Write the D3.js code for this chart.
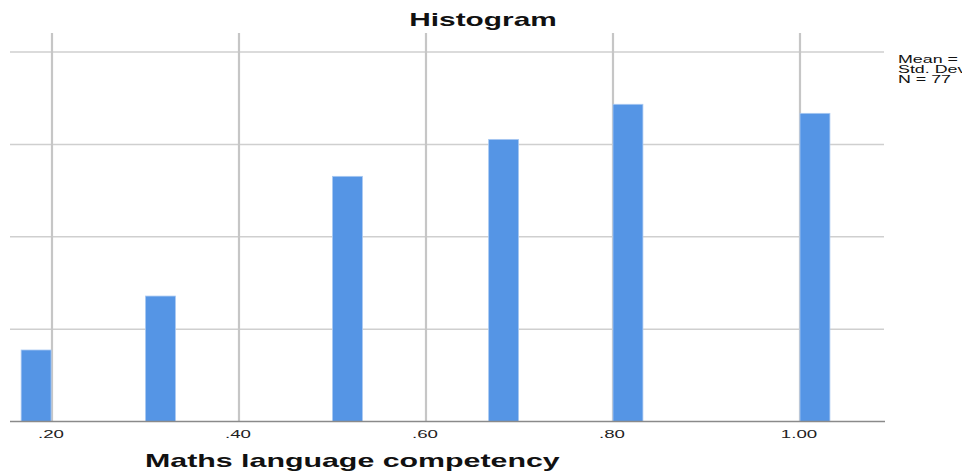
<!DOCTYPE html>
<html>
<head>
<meta charset="utf-8">
<script src="https://cdn.jsdelivr.net/npm/d3@7/dist/d3.min.js"></script>
<style>
  html, body { margin: 0; padding: 0; background: #ffffff; overflow: hidden; }
  svg { display: block; }
  text { font-family: "Liberation Sans", Arial, sans-serif; }
</style>
</head>
<body>
<svg id="chart" width="962" height="474"></svg>
<script>
// Histogram bins: lower edge of each bin (score) and its frequency
const binStarts = [0.167, 0.300, 0.500, 0.667, 0.800, 1.000];
const frequencies = [3.87, 6.79, 13.27, 15.27, 17.17, 16.68];
const binWidth = 0.032;

// Axis ticks
const xTicks = [0.2, 0.4, 0.6, 0.8, 1.0];
const xTickLabels = [".20", ".40", ".60", ".80", "1.00"];
const yTicks = [0, 5, 10, 15, 20];

// Summary box lines
const statLines = ["Mean =", "Std. Dev. =", "N = 77"];

const title = "Histogram";
const xTitle = "Maths language competency";

const plot = { left: 10, right: 884, top: 33, bottom: 421.5 };
const stretch = 1.7; // horizontal text scale

const svg = d3.select("#chart");

const x = d3.scaleLinear()
  .domain([0.2, 1.0])
  .range([52, 800]);
const xMin = x.invert(plot.left), xMax = x.invert(plot.right);

const y = d3.scaleLinear()
  .domain([0, 20])
  .range([plot.bottom, 52]);

// Horizontal gridlines
svg.append("g")
  .selectAll("line")
  .data(yTicks.slice(1))
  .join("line")
  .attr("x1", x(xMin)).attr("x2", x(xMax))
  .attr("y1", d => y(d)).attr("y2", d => y(d))
  .attr("stroke", "#cfcfcf").attr("stroke-width", 1.5);

// Vertical gridlines at tick positions
svg.append("g")
  .selectAll("line")
  .data(xTicks)
  .join("line")
  .attr("x1", d => x(d)).attr("x2", d => x(d))
  .attr("y1", plot.top).attr("y2", plot.bottom)
  .attr("stroke", "#c6c6c6").attr("stroke-width", 2.2);

// Bars
const bins = binStarts.map((s, i) => ({ start: s, freq: frequencies[i] }));
svg.append("g")
  .selectAll("rect")
  .data(bins)
  .join("rect")
  .attr("x", d => x(d.start))
  .attr("width", d => x(d.start + binWidth) - x(d.start))
  .attr("y", d => y(d.freq))
  .attr("height", d => y(0) - y(d.freq))
  .attr("fill", "#5595e5")
  .attr("stroke", "#a9c9f2")
  .attr("stroke-width", 0.8);

// Bottom axis line
svg.append("line")
  .attr("x1", x(xMin)).attr("x2", x(xMax) + 1)
  .attr("y1", y(0)).attr("y2", y(0))
  .attr("stroke", "#8a8a8a").attr("stroke-width", 1.5);

// Tick labels
svg.append("g")
  .selectAll("text")
  .data(xTicks)
  .join("text")
  .attr("transform", d => `translate(${x(d) - 1},438) scale(${stretch},1)`)
  .attr("text-anchor", "middle")
  .attr("font-size", 11)
  .attr("fill", "#222")
  .text((d, i) => xTickLabels[i]);

// Chart title
svg.append("text")
  .attr("transform", `translate(483,26) scale(${stretch * 0.975},1)`)
  .attr("text-anchor", "middle")
  .attr("font-size", 18)
  .attr("font-weight", "bold")
  .attr("fill", "#111")
  .text(title);

// X axis title
svg.append("text")
  .attr("transform", `translate(145,467) scale(${stretch * 0.965},1)`)
  .attr("text-anchor", "start")
  .attr("font-size", 18.5)
  .attr("font-weight", "bold")
  .attr("fill", "#111")
  .text(xTitle);

// Summary statistics
svg.append("g")
  .selectAll("text")
  .data(statLines)
  .join("text")
  .attr("transform", (d, i) => `translate(898,${62.5 + i * 10}) scale(${stretch},1)`)
  .attr("font-size", 10.5)
  .attr("fill", "#111")
  .text(d => d);
</script>
</body>
</html>
